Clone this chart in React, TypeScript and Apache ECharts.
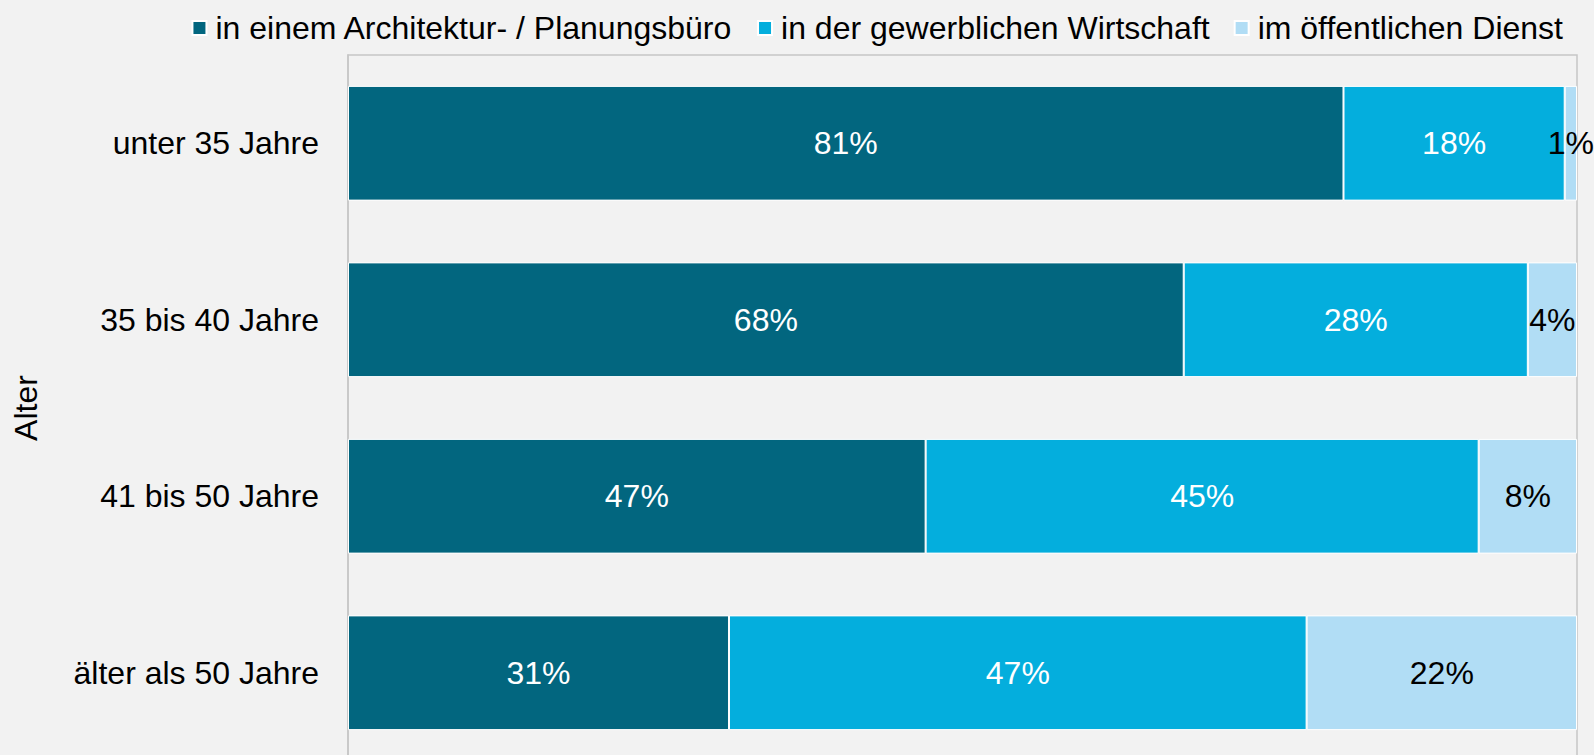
import React, { useEffect, useRef } from "react";
import * as echarts from "echarts";

const categories = ["unter 35 Jahre", "35 bis 40 Jahre", "41 bis 50 Jahre", "älter als 50 Jahre"];
const seriesNames = ["in einem Architektur- / Planungsbüro", "in der gewerblichen Wirtschaft", "im öffentlichen Dienst"];
const buero = [81, 68, 47, 31];
const wirtschaft = [18, 28, 45, 47];
const dienst = [1, 4, 8, 22];
const colors = ["#02667f", "#04aedd", "#b1ddf5"];
const labelColors = ["#ffffff", "#ffffff", "#000000"];

const FONT = "'Liberation Sans', Arial, Helvetica, sans-serif";

export default function App() {
  const ref = useRef<HTMLDivElement>(null);
  useEffect(() => {
    document.body.style.margin = "0";
    document.body.style.overflow = "hidden";
    document.documentElement.style.overflow = "hidden";
    if (!ref.current) return;
    const chart = echarts.init(ref.current, undefined, { renderer: "svg" });
    const values = [buero, wirtschaft, dienst];
    chart.setOption({
      animation: false,
      backgroundColor: "#f2f2f2",
      textStyle: { fontFamily: FONT },
      legend: {
        data: seriesNames,
        right: 26,
        top: 7,
        itemWidth: 14,
        itemHeight: 14,
        itemGap: 24,
        icon: "rect",
        textStyle: { fontSize: 32, color: "#000", fontFamily: FONT, padding: [0, 0, 0, 4] },
      },
      grid: {
        left: 348,
        right: 17,
        top: 55,
        bottom: 0,
        show: true,
        borderColor: "#c6c6c6",
        borderWidth: 1.5,
        backgroundColor: "transparent",
      },
      xAxis: {
        type: "value",
        min: 0,
        max: 100,
        show: false,
      },
      yAxis: {
        type: "category",
        data: categories,
        inverse: true,
        name: "Alter",
        nameLocation: "middle",
        nameGap: 306,
        nameRotate: 90,
        nameTextStyle: { fontSize: 32, color: "#000", fontFamily: FONT },
        axisLine: { show: true, lineStyle: { color: "#c6c6c6", width: 1.5 } },
        axisTick: { show: false },
        axisLabel: { fontSize: 32, color: "#000", margin: 29, fontFamily: FONT },
        splitLine: { show: false },
      },
      series: seriesNames.map((name, i) => ({
        name,
        type: "bar",
        stack: "total",
        barWidth: "65%",
        data: values[i],
        itemStyle: { color: colors[i], borderColor: "#ffffff", borderWidth: 1 },
        label: {
          show: true,
          position: "inside",
          formatter: "{c}%",
          color: labelColors[i],
          fontSize: 32,
          fontFamily: FONT,
          textBorderWidth: 0,
        },
        emphasis: { disabled: true },
      })),
    });
    return () => chart.dispose();
  }, []);
  return <div ref={ref} style={{ width: 1594, height: 761 }} />;
}
